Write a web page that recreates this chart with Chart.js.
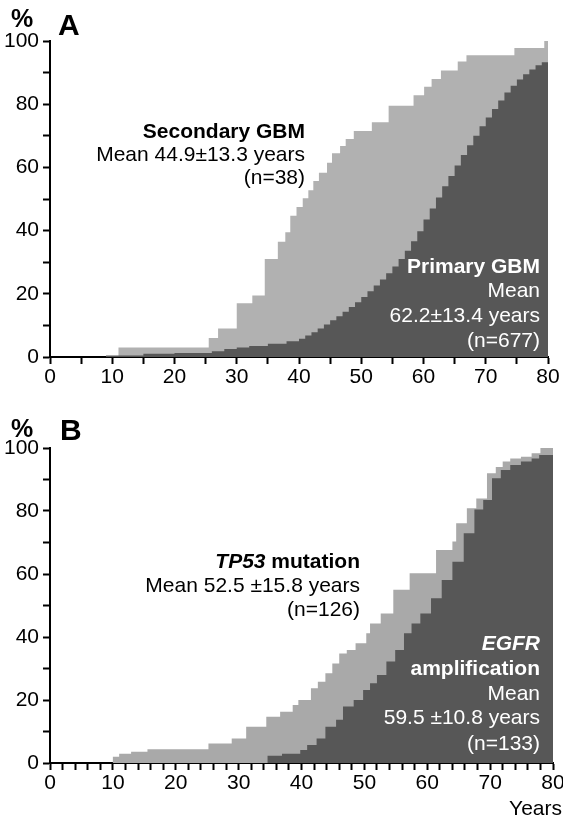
<!DOCTYPE html>
<html>
<head>
<meta charset="utf-8">
<script src="https://cdn.jsdelivr.net/npm/chart.js@4.4.1/dist/chart.umd.min.js"></script>
<style>
  html, body { margin: 0; padding: 0; background: #fff; overflow: hidden; width: 563px; height: 826px; }
  #wrapA { position: absolute; left: 0; top: 0; width: 563px; height: 400px; }
  #wrapB { position: absolute; left: 0; top: 400px; width: 580px; height: 426px; }
</style>
</head>
<body>
<div id="wrapA"><canvas id="chartA" width="563" height="400" style="width:563px;height:400px"></canvas></div>
<div id="wrapB"><canvas id="chartB" width="580" height="426" style="width:580px;height:426px"></canvas></div>
<script>
// panel A - secondary vs primary GBM (cumulative % by age)
var secondaryYears = [0, 11, 25.5, 27, 30, 32.5, 34.5, 36.6, 37.8, 38.6, 39.6, 40.6, 41.5, 42.3, 43.2, 44.5, 45.3, 46.6, 47.5, 48.8, 51.7, 54.4, 58.4, 60.1, 61.3, 62.8, 65.5, 66.9, 74.6, 79.4, 80];
var secondaryPct   = [0, 3, 6, 9, 17, 19.5, 31, 36.5, 39.5, 44.7, 47.5, 50.2, 52.8, 55.7, 58.3, 61.5, 64.5, 66.8, 69, 71.5, 74.3, 79.5, 82.8, 85.5, 88, 90.7, 93.5, 95.5, 97.8, 100, 100];

var primaryYears = [0, 9, 15, 20, 26, 28, 30, 32, 35, 38, 40, 41, 42, 43, 44, 45, 46, 47, 48, 49, 50, 51, 52, 53, 54, 55, 56, 57, 58, 59, 60, 61, 62, 63, 64, 65, 66, 67, 68, 69, 70, 71, 72, 73, 74, 75, 76, 77, 78, 79, 80];
var primaryPct   = [0, 0.5, 1, 1.3, 1.8, 2.5, 3, 3.5, 4.2, 5, 5.8, 6.8, 7.8, 9, 10.3, 11.6, 12.9, 14.3, 15.8, 17.3, 19, 20.8, 22.6, 24.5, 26.5, 28.6, 31, 33.6, 36.6, 39.8, 43.5, 47, 50.5, 54, 57.3, 60.6, 63.9, 67, 70, 73, 75.8, 78.5, 81.2, 83.7, 85.8, 87.8, 89.5, 91, 92.3, 93.3, 94];

// panel B - TP53 mutation vs EGFR amplification
var tp53Years = [0, 10, 11, 12.9, 15.5, 25.2, 28.9, 31.2, 34.4, 36.6, 38.6, 39.5, 41.5, 42.6, 43.8, 44.9, 46, 47.2, 48.6, 50.3, 50.9, 52.6, 54.6, 57.2, 61.4, 64, 64.6, 66.3, 67.8, 69.5, 70.9, 72, 73.2, 74.9, 76.6, 78, 80];
var tp53Pct   = [0, 2, 2.9, 3.6, 4.4, 6.2, 7.8, 11.5, 14.7, 16.3, 18.4, 20, 23.7, 25.8, 28.5, 31.6, 34.8, 35.9, 38, 41.2, 44.3, 47.5, 55, 60.2, 67.6, 70.3, 76.1, 80.9, 84, 92, 94, 95.7, 96.7, 97.2, 98.3, 100, 100];

var egfrYears = [0, 34.6, 36.9, 39.8, 40.9, 42.4, 43.8, 45.5, 46.6, 48.3, 49.8, 50.9, 52, 53.5, 54.9, 56.3, 57.5, 58.9, 60.6, 62.3, 64, 65.8, 67.5, 68.9, 70.3, 71.7, 73.2, 74.9, 76.6, 77.8, 80];
var egfrPct   = [0, 2.3, 2.9, 4.1, 5.7, 7.8, 11.5, 13.7, 17.9, 20, 23.2, 25.3, 27.9, 32.2, 35.9, 41.2, 44.3, 47.5, 52.3, 58.1, 63.9, 72.9, 80.5, 83.5, 90.4, 93, 94.6, 95.7, 96.7, 97.8, 97.8];

var yTicks = [0, 20, 40, 60, 80, 100];
var xTicks = [0, 10, 20, 30, 40, 50, 60, 70, 80];

var FONT = '"Liberation Sans", Arial, Helvetica, sans-serif';
var LIGHT_A = '#b1b1b1';
var LIGHT_B = '#a9a9a9';
var DARK = '#575757';

Chart.defaults.font.family = FONT;
Chart.defaults.color = '#000';

function pts(xs, ys) {
  return xs.map(function (x, i) { return { x: x, y: ys[i] }; });
}

function area(data, color, order) {
  return {
    data: data,
    stepped: true,
    fill: 'origin',
    backgroundColor: color,
    borderColor: color,
    borderWidth: 0,
    pointRadius: 0,
    order: order
  };
}

// free text drawn on top of the chart
function notesPlugin(items) {
  return {
    id: 'notes',
    afterDraw: function (chart) {
      var ctx = chart.ctx;
      ctx.save();
      ctx.textBaseline = 'alphabetic';
      ctx.textAlign = 'left';
      items.forEach(function (it) {
        var w = 0;
        it.parts.forEach(function (p) { ctx.font = p[1]; w += ctx.measureText(p[0]).width; });
        var x = it.align === 'right' ? it.x - w : it.x;
        ctx.fillStyle = it.color || '#000';
        it.parts.forEach(function (p) {
          ctx.font = p[1];
          ctx.fillText(p[0], x, it.y);
          x += ctx.measureText(p[0]).width;
        });
      });
      ctx.restore();
    }
  };
}

function makeOptions(xStep, xHeight, pad) {
  var axisGrid = { display: true, drawOnChartArea: false, drawTicks: true, tickLength: 7, tickWidth: 2, tickColor: '#000', color: '#000' };
  return {
    responsive: false,
    animation: false,
    layout: { padding: pad },
    plugins: { legend: { display: false }, tooltip: { enabled: false } },
    scales: {
      x: {
        type: 'linear', min: 0, max: 80,
        grid: axisGrid,
        border: { display: true, color: '#000', width: 2 },
        ticks: {
          stepSize: xStep, autoSkip: false, maxRotation: 0, padding: 1,
          font: { size: 21 }, color: '#000',
          callback: function (v) { return xTicks.indexOf(v) >= 0 ? String(v) : ''; }
        },
        afterFit: function (s) { s.height = xHeight; }
      },
      y: {
        min: 0, max: 100,
        grid: axisGrid,
        border: { display: true, color: '#000', width: 2 },
        ticks: {
          stepSize: 10, autoSkip: false, padding: 4,
          font: { size: 21 }, color: '#000',
          callback: function (v) { return yTicks.indexOf(v) >= 0 ? String(v) : ''; }
        },
        afterFit: function (s) { s.width = 50; }
      }
    }
  };
}

var reg = '21px ' + FONT;
var bold = 'bold 21px ' + FONT;
var boldIt = 'italic bold 21px ' + FONT;

new Chart(document.getElementById('chartA').getContext('2d'), {
  type: 'line',
  data: {
    datasets: [
      area(pts(primaryYears, primaryPct), DARK, 0),
      area(pts(secondaryYears, secondaryPct), LIGHT_A, 1)
    ]
  },
  options: makeOptions(5, 43, { top: 41, right: 15, left: 0, bottom: 0 }),
  plugins: [notesPlugin([
    { x: 11, y: 27, parts: [['%', 'bold 25px ' + FONT]] },
    { x: 58, y: 35, parts: [['A', 'bold 30px ' + FONT]] },
    { x: 305, y: 138, align: 'right', parts: [['Secondary GBM', bold]] },
    { x: 305, y: 161, align: 'right', parts: [['Mean 44.9\u00b113.3 years', reg]] },
    { x: 305, y: 184, align: 'right', parts: [['(n=38)', reg]] },
    { x: 540, y: 273, align: 'right', color: '#fff', parts: [['Primary GBM', bold]] },
    { x: 540, y: 297, align: 'right', color: '#fff', parts: [['Mean', reg]] },
    { x: 540, y: 322, align: 'right', color: '#fff', parts: [['62.2\u00b113.4 years', reg]] },
    { x: 540, y: 347, align: 'right', color: '#fff', parts: [['(n=677)', reg]] }
  ])]
});

new Chart(document.getElementById('chartB').getContext('2d'), {
  type: 'line',
  data: {
    datasets: [
      area(pts(egfrYears, egfrPct), DARK, 0),
      area(pts(tp53Years, tp53Pct), LIGHT_B, 1)
    ]
  },
  options: makeOptions(2, 63, { top: 48, right: 27, left: 0, bottom: 0 }),
  plugins: [notesPlugin([
    { x: 11, y: 37, parts: [['%', 'bold 25px ' + FONT]] },
    { x: 60, y: 40, parts: [['B', 'bold 30px ' + FONT]] },
    { x: 360, y: 168, align: 'right', parts: [['TP53', boldIt], [' mutation', bold]] },
    { x: 360, y: 192, align: 'right', parts: [['Mean 52.5 \u00b115.8 years', reg]] },
    { x: 360, y: 216, align: 'right', parts: [['(n=126)', reg]] },
    { x: 540, y: 250, align: 'right', color: '#fff', parts: [['EGFR', boldIt]] },
    { x: 540, y: 275, align: 'right', color: '#fff', parts: [['amplification', bold]] },
    { x: 540, y: 300, align: 'right', color: '#fff', parts: [['Mean', reg]] },
    { x: 540, y: 324, align: 'right', color: '#fff', parts: [['59.5 \u00b110.8 years', reg]] },
    { x: 540, y: 350, align: 'right', color: '#fff', parts: [['(n=133)', reg]] },
    { x: 562, y: 415, align: 'right', parts: [['Years', reg]] }
  ])]
});
</script>
</body>
</html>
